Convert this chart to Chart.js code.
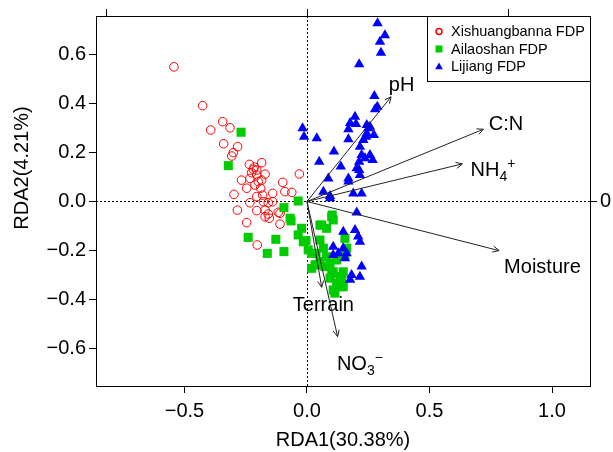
<!DOCTYPE html>
<html>
<head>
<meta charset="utf-8">
<script src="https://cdn.jsdelivr.net/npm/chart.js@4.4.1/dist/chart.umd.min.js"></script>
<style>
  html, body { margin: 0; padding: 0; background: #fff; }
</style>
</head>
<body>
<canvas id="rda" width="613" height="452"></canvas>
<script>
// --- site scores (RDA1, RDA2) ---
const xishuangbanna = [
  [-0.543, 0.548], [-0.426, 0.390], [-0.344, 0.325], [-0.314, 0.300], [-0.393, 0.291],
  [-0.340, 0.235], [-0.283, 0.223], [-0.301, 0.199], [-0.307, 0.185], [-0.235, 0.151],
  [-0.185, 0.158], [-0.205, 0.128], [-0.226, 0.117], [-0.171, 0.111], [-0.267, 0.087],
  [-0.233, 0.094], [-0.185, 0.087], [-0.246, 0.054], [-0.189, 0.054], [-0.099, 0.078],
  [-0.031, 0.112], [-0.090, 0.040], [-0.062, 0.037], [-0.298, 0.029], [-0.140, 0.033],
  [-0.181, 0.026], [-0.233, -0.005], [-0.140, -0.001], [-0.284, -0.035], [-0.205, -0.037],
  [-0.171, -0.035], [-0.117, -0.044], [-0.246, -0.086], [-0.110, -0.092], [-0.203, -0.177],
  [-0.215, 0.140], [-0.178, -0.001], [-0.158, -0.005], [-0.171, -0.062], [-0.154, -0.068],
  [-0.158, -0.051], [-0.110, -0.048], [-0.219, 0.131], [-0.205, 0.108], [-0.199, 0.081],
  [-0.212, 0.067], [-0.205, 0.020]
];
const ailaoshan = [
  [-0.269, 0.282], [-0.321, 0.146], [-0.036, 0.002], [-0.094, -0.025], [-0.069, -0.068],
  [0.103, -0.055], [-0.065, -0.079], [-0.240, -0.146], [-0.127, -0.154], [-0.162, -0.211],
  [-0.094, -0.204], [-0.022, -0.109], [-0.036, -0.136], [-0.004, -0.159], [0.053, -0.096],
  [0.101, -0.062], [0.107, -0.075], [0.080, -0.109], [0.155, -0.150], [0.037, -0.211],
  [0.053, -0.245], [0.080, -0.225], [0.073, -0.265], [0.121, -0.238], [0.101, -0.292],
  [0.135, -0.306], [0.121, -0.333], [0.148, -0.347], [0.114, -0.373], [0.033, -0.258],
  [-0.015, -0.164], [0.005, -0.197], [0.060, -0.096], [0.053, -0.157], [0.067, -0.190],
  [0.094, -0.251], [0.107, -0.286], [0.094, -0.312], [0.142, -0.319], [0.148, -0.286],
  [0.162, -0.190], [0.155, -0.218], [0.019, -0.211], [0.040, -0.258], [0.019, -0.272],
  [0.107, -0.360], [0.135, -0.347]
];
const lijiang = [
  [0.288, 0.725], [0.318, 0.677], [0.298, 0.650], [0.302, 0.605], [0.213, 0.559],
  [0.275, 0.429], [0.287, 0.386], [0.278, 0.375], [0.196, 0.345], [0.200, 0.315],
  [0.169, 0.294], [0.250, 0.298], [0.257, 0.304], [0.244, 0.277], [-0.018, 0.298],
  [-0.012, 0.264], [0.040, 0.257], [0.273, 0.271], [0.241, 0.264], [0.169, 0.253],
  [0.230, 0.250], [0.216, 0.223], [0.110, 0.203], [0.257, 0.189], [0.268, 0.169],
  [0.223, 0.189], [0.213, 0.162], [0.237, 0.176], [0.050, 0.162], [0.138, 0.142],
  [0.213, 0.128], [0.216, 0.108], [0.203, 0.135], [0.169, 0.094], [0.087, 0.094],
  [0.169, 0.081], [0.067, 0.040], [0.189, 0.033], [0.223, 0.033], [0.094, 0.022],
  [0.094, 0.013], [0.176, 0.319], [0.244, 0.311], [0.203, -0.045], [0.148, -0.123],
  [0.196, -0.116], [0.209, -0.143], [0.216, -0.164], [0.107, -0.184], [0.148, -0.190],
  [0.162, -0.211], [0.128, -0.211], [0.107, -0.218], [0.155, -0.231], [0.223, -0.265],
  [0.216, -0.306], [0.182, -0.299], [0.176, -0.319]
];

// --- environmental vectors ---
const envNames = ['pH', 'C:N', 'NH4+', 'Moisture', 'Terrain', 'NO3-'];
const envX = [0.343, 0.720, 0.634, 0.784, 0.060, 0.125];
const envY = [0.426, 0.294, 0.153, -0.200, -0.349, -0.550];
const labelX = [0.386, 0.812, 0.759, 0.961, 0.067, 0.216];
const labelY = [0.478, 0.321, 0.134, -0.262, -0.415, -0.657];

// --- axes ---
const xTicks = [-0.5, 0, 0.5, 1.0];
const yTicks = [-0.6, -0.4, -0.2, 0, 0.2, 0.4, 0.6];
const topTicks = [-1, 0, 1];
const rightTicks = [0];
const xRange = [-0.861, 1.155];
const yRange = [-0.751, 0.755];
const topRange = [-1.05, 1.408];

const FONT = "'Liberation Sans', Arial, Helvetica, sans-serif";

// rich text for the ion labels (sub / superscript)
const richLabels = {
    'NH4+': [['NH', 0], ['4', 1], ['+', -1]],
    'NO3-': [['NO', 0], ['3', 1], ['\u2212', -1]]
};

function fmt(v) {
    if (Math.abs(v) < 1e-9) return '0.0';
    return (v < 0 ? '\u2212' : '') + Math.abs(v).toFixed(1);
}

function toPts(arr) {
    return arr.map(p => ({ x: p[0], y: p[1] }));
}

function drawTriangle(ctx, x, y, r) {
    ctx.beginPath();
    ctx.moveTo(x, y - r);
    ctx.lineTo(x + r * 0.866, y + r * 0.5);
    ctx.lineTo(x - r * 0.866, y + r * 0.5);
    ctx.closePath();
    ctx.fill();
}

function drawLabel(ctx, name, cx, cy) {
    const size = 20, small = 14;
    const parts = richLabels[name] || [[name, 0]];
    let total = 0;
    parts.forEach(p => {
        ctx.font = (p[1] === 0 ? size : small) + 'px ' + FONT;
        total += ctx.measureText(p[0]).width;
    });
    const base = cy + size * 0.358;
    let x = cx - total / 2;
    ctx.textAlign = 'left';
    ctx.textBaseline = 'alphabetic';
    ctx.fillStyle = '#000';
    parts.forEach(p => {
        ctx.font = (p[1] === 0 ? size : small) + 'px ' + FONT;
        let y = base;
        if (p[1] === 1) y = base + 5;
        if (p[1] === -1) y = base - 8;
        ctx.fillText(p[0], x, y);
        x += ctx.measureText(p[0]).width;
    });
}

const biplotPlugin = {
    id: 'biplot',
    beforeDatasetsDraw(chart) {
        const { ctx, chartArea: a, scales } = chart;
        const x0 = scales.x.getPixelForValue(0);
        const y0 = scales.y.getPixelForValue(0);
        ctx.save();
        ctx.strokeStyle = '#000';
        ctx.lineWidth = 1;
        ctx.setLineDash([2, 2]);
        ctx.beginPath();
        ctx.moveTo(Math.round(x0) + 0.5, a.top);
        ctx.lineTo(Math.round(x0) + 0.5, a.bottom);
        ctx.moveTo(a.left, Math.round(y0) + 0.5);
        ctx.lineTo(a.right, Math.round(y0) + 0.5);
        ctx.stroke();
        ctx.restore();
    },
    afterDatasetsDraw(chart) {
        const { ctx, scales } = chart;
        const x0 = scales.x.getPixelForValue(0);
        const y0 = scales.y.getPixelForValue(0);
        ctx.save();
        ctx.strokeStyle = '#222';
        ctx.lineWidth = 1;
        envNames.forEach((name, i) => {
            const tx = scales.x.getPixelForValue(envX[i]);
            const ty = scales.y.getPixelForValue(envY[i]);
            const ang = Math.atan2(ty - y0, tx - x0);
            const len = 7, spread = Math.PI / 7;
            ctx.beginPath();
            ctx.moveTo(x0, y0);
            ctx.lineTo(tx, ty);
            ctx.moveTo(tx - len * Math.cos(ang - spread), ty - len * Math.sin(ang - spread));
            ctx.lineTo(tx, ty);
            ctx.lineTo(tx - len * Math.cos(ang + spread), ty - len * Math.sin(ang + spread));
            ctx.stroke();
            drawLabel(ctx, name,
                scales.x.getPixelForValue(labelX[i]),
                scales.y.getPixelForValue(labelY[i]));
        });
        ctx.restore();
    },
    afterDraw(chart) {
        const { ctx, chartArea: a } = chart;
        ctx.save();
        // legend box in top-right corner
        const w = 163, h = 65;
        const left = a.right - w, top = a.top;
        ctx.fillStyle = '#fff';
        ctx.fillRect(left, top, w, h);
        ctx.strokeStyle = '#000';
        ctx.lineWidth = 1;
        ctx.strokeRect(Math.round(left) + 0.5, Math.round(top) + 0.5, w, h);
        chart.data.datasets.forEach((ds, i) => {
            const cy = top + 15.5 + i * 17.5;
            const mx = left + 12;
            if (ds.pointStyle === 'circle') {
                ctx.strokeStyle = ds.borderColor;
                ctx.lineWidth = 1.5;
                ctx.beginPath();
                ctx.arc(mx, cy, 3, 0, Math.PI * 2);
                ctx.stroke();
            } else if (ds.pointStyle === 'rect') {
                ctx.fillStyle = ds.backgroundColor;
                ctx.fillRect(mx - 3.5, cy - 3.5, 7, 7);
            } else {
                ctx.fillStyle = ds.backgroundColor;
                drawTriangle(ctx, mx, cy + 0.5, 4.5);
            }
            ctx.fillStyle = '#000';
            ctx.font = '14.5px ' + FONT;
            ctx.textAlign = 'left';
            ctx.textBaseline = 'middle';
            ctx.fillText(ds.label, left + 24, cy + 0.5);
        });
        // y axis title
        ctx.translate(22, 168);
        ctx.rotate(-Math.PI / 2);
        ctx.fillStyle = '#000';
        ctx.font = '20px ' + FONT;
        ctx.textAlign = 'center';
        ctx.textBaseline = 'middle';
        ctx.fillText('RDA2(4.21%)', 0, 0);
        ctx.restore();
    }
};

const tickFont = { family: FONT, size: 20 };
const gridOpts = { drawOnChartArea: false, drawTicks: true, tickLength: 7, tickColor: '#000', tickWidth: 1 };
const borderOpts = { display: true, color: '#000', width: 1 };

function setTicks(list) {
    return function(axis) { axis.ticks = list.map(v => ({ value: v })); };
}

new Chart(document.getElementById('rda'), {
    type: 'scatter',
    data: {
        datasets: [
            {
                label: 'Xishuangbanna FDP',
                data: toPts(xishuangbanna),
                pointStyle: 'circle',
                pointRadius: 4.3,
                borderWidth: 1,
                borderColor: '#ff0000',
                backgroundColor: 'rgba(0,0,0,0)',
                order: 3
            },
            {
                label: 'Ailaoshan FDP',
                data: toPts(ailaoshan),
                pointStyle: 'rect',
                pointRadius: 6.4,
                borderWidth: 0,
                borderColor: '#00cc00',
                backgroundColor: '#00cc00',
                order: 2
            },
            {
                label: 'Lijiang FDP',
                data: toPts(lijiang),
                pointStyle: 'triangle',
                pointRadius: 6,
                borderWidth: 0,
                borderColor: '#0000ff',
                backgroundColor: '#0000ff',
                order: 1
            }
        ]
    },
    options: {
        responsive: false,
        animation: false,
        layout: { padding: 0 },
        plugins: {
            legend: { display: false },
            tooltip: { enabled: false }
        },
        scales: {
            x: {
                type: 'linear', position: 'bottom', axis: 'x',
                min: xRange[0], max: xRange[1],
                afterBuildTicks: setTicks(xTicks),
                afterFit: a => { a.height = 66; },
                grid: gridOpts, border: borderOpts,
                ticks: { font: tickFont, color: '#000', padding: 6, maxRotation: 0, autoSkip: false, callback: fmt },
                title: { display: true, text: 'RDA1(30.38%)', font: tickFont, color: '#000', padding: 0 }
            },
            x2: {
                type: 'linear', position: 'top', axis: 'x',
                min: topRange[0], max: topRange[1],
                afterBuildTicks: setTicks(topTicks),
                afterFit: a => { a.height = 16; },
                grid: gridOpts, border: borderOpts,
                ticks: { display: false }
            },
            y: {
                type: 'linear', position: 'left', axis: 'y',
                min: yRange[0], max: yRange[1],
                afterBuildTicks: setTicks(yTicks),
                afterFit: a => { a.width = 96; },
                grid: gridOpts, border: borderOpts,
                ticks: { font: tickFont, color: '#000', padding: 3, autoSkip: false, callback: fmt }
            },
            y2: {
                type: 'linear', position: 'right', axis: 'y',
                min: yRange[0], max: yRange[1],
                afterBuildTicks: setTicks(rightTicks),
                afterFit: a => { a.width = 23; },
                grid: gridOpts, border: borderOpts,
                ticks: { font: tickFont, color: '#000', padding: 3, callback: v => String(v) }
            }
        }
    },
    plugins: [biplotPlugin]
});
</script>
</body>
</html>
